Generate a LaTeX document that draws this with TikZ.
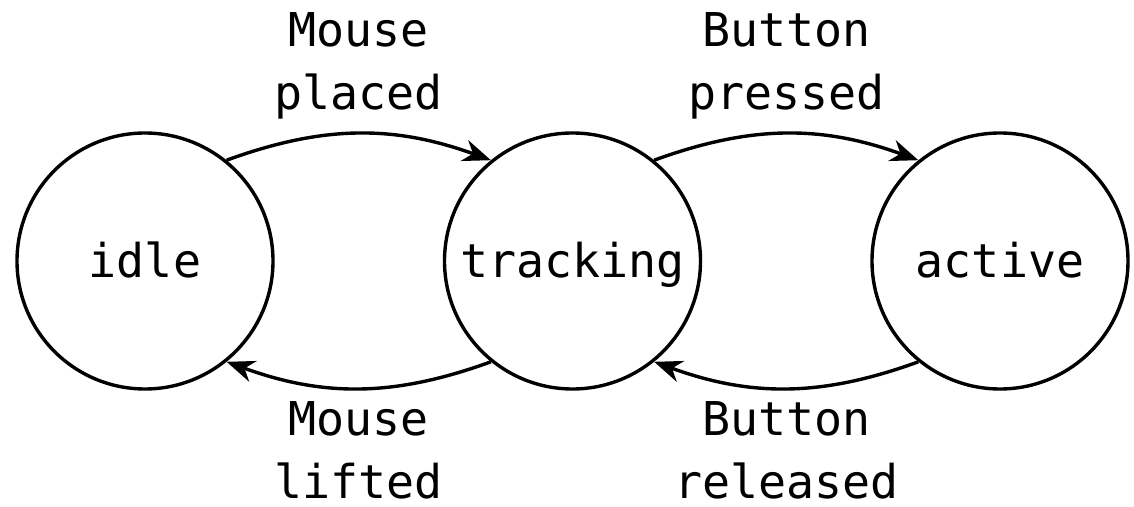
\documentclass[tikz,border=0pt]{standalone}
\usepackage{fontspec}
\newfontfamily\monofont{DejaVu Sans Mono}
\usetikzlibrary{arrows.meta}
\begin{document}
\begin{tikzpicture}[x=0.5pt,y=-0.5pt,
  txt/.style={font=\monofont\fontsize{23.3}{31.5}\selectfont},
  state/.style={circle,draw,line width=1.7pt,minimum size=128pt,inner sep=0pt,
    txt,text height=17pt,text depth=0pt},
  lbl/.style={txt,align=center,anchor=base,inner sep=0pt},
  trans/.style={line width=1.7pt,-{Stealth[length=14pt,width=11pt,inset=4.5pt]}}]
\useasboundingbox (0,0) rectangle (1134,507);
\node[state] (idle) at (145,261) {idle};
\node[state] (tracking) at (572.5,261) {tracking};
\node[state] (active) at (1000,261) {active};

\draw[trans] (idle.51) to[bend left=20] (tracking.129);
\draw[trans] (tracking.51) to[bend left=20] (active.129);
\draw[trans] (tracking.231) to[bend left=20] (idle.309);
\draw[trans] (active.231) to[bend left=20] (tracking.309);

% the base anchor of a two-line label sits on its second line
\node[lbl] (placed) at (358.75,110) {Mouse\\placed};
\node[lbl] (pressed) at (786.25,110) {Button\\pressed};
\node[lbl] (lifted) at (358.75,498) {Mouse\\lifted};
\node[lbl] (released) at (786.25,498) {Button\\released};
\end{tikzpicture}
\end{document}
